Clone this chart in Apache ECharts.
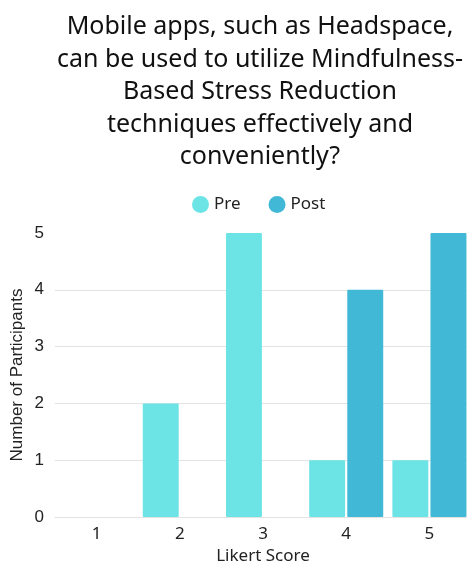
<!DOCTYPE html>
<html>
<head>
<meta charset="utf-8">
<script src="https://cdn.jsdelivr.net/npm/echarts@6/dist/echarts.min.js"></script>
<style>
  html, body { margin: 0; padding: 0; background: #ffffff; }
  #chart { width: 467px; height: 565px; }
</style>
</head>
<body>
<div id="chart"></div>
<script>
// Likert responses, counted per score, before and after the program
const titleText = 'Mobile apps, such as Headspace,\ncan be used to utilize Mindfulness-\nBased Stress Reduction\ntechniques effectively and\nconveniently?';
const categories = ['1', '2', '3', '4', '5'];
const preCounts = [0, 2, 5, 1, 1];
const postCounts = [0, 0, 0, 4, 5];
const seriesNames = ['Pre', 'Post'];
const yTicks = { min: 0, max: 5, interval: 1 };

const titleFont = 'Noto Sans';
const axisFont = 'Liberation Sans';

const chart = echarts.init(document.getElementById('chart'), null, { renderer: 'canvas' });

chart.setOption({
  backgroundColor: '#ffffff',
  animation: false,
  color: ['#6ce4e6', '#41b8d6'],
  title: {
    text: titleText,
    left: 255,
    top: 6,
    textAlign: 'center',
    textStyle: {
      fontFamily: titleFont,
      fontSize: 25,
      fontWeight: 'normal',
      color: '#111111',
      lineHeight: 32.5,
      align: 'center'
    }
  },
  legend: {
    data: seriesNames,
    top: 191,
    left: 187,
    icon: 'circle',
    itemWidth: 17,
    itemHeight: 17,
    itemGap: 28,
    textStyle: { fontFamily: titleFont, fontSize: 17, color: '#222222' }
  },
  // the plot runs slightly past the right edge of the canvas
  grid: { left: 55, top: 233, width: 416, bottom: 48, containLabel: false, outerBoundsMode: 'none' },
  xAxis: {
    type: 'category',
    data: categories,
    name: 'Likert Score',
    nameLocation: 'middle',
    nameGap: 31,
    nameTextStyle: { fontFamily: titleFont, fontSize: 17, color: '#222222' },
    axisLine: { show: true, lineStyle: { color: '#e3e3e3', width: 1 } },
    axisTick: { show: false },
    axisLabel: { fontFamily: titleFont, fontSize: 17, color: '#222222', margin: 9 },
    splitLine: { show: false }
  },
  yAxis: {
    type: 'value',
    min: yTicks.min,
    max: yTicks.max,
    interval: yTicks.interval,
    name: 'Number of Participants',
    nameLocation: 'middle',
    nameGap: 29,
    nameMoveOverlap: false,
    nameTextStyle: { fontFamily: axisFont, fontSize: 17, color: '#222222' },
    axisLine: { show: false },
    axisTick: { show: false },
    axisLabel: { fontFamily: axisFont, fontSize: 17, color: '#222222', margin: 11 },
    splitLine: { show: true, showMaxLine: false, lineStyle: { color: '#e3e3e3', width: 1 } }
  },
  series: [
    {
      name: seriesNames[0],
      type: 'bar',
      data: preCounts,
      barGap: '6%',
      barCategoryGap: '11%',
      itemStyle: { borderRadius: 1 }
    },
    {
      name: seriesNames[1],
      type: 'bar',
      data: postCounts,
      barGap: '6%',
      barCategoryGap: '11%',
      itemStyle: { borderRadius: 1 }
    }
  ]
});
</script>
</body>
</html>
